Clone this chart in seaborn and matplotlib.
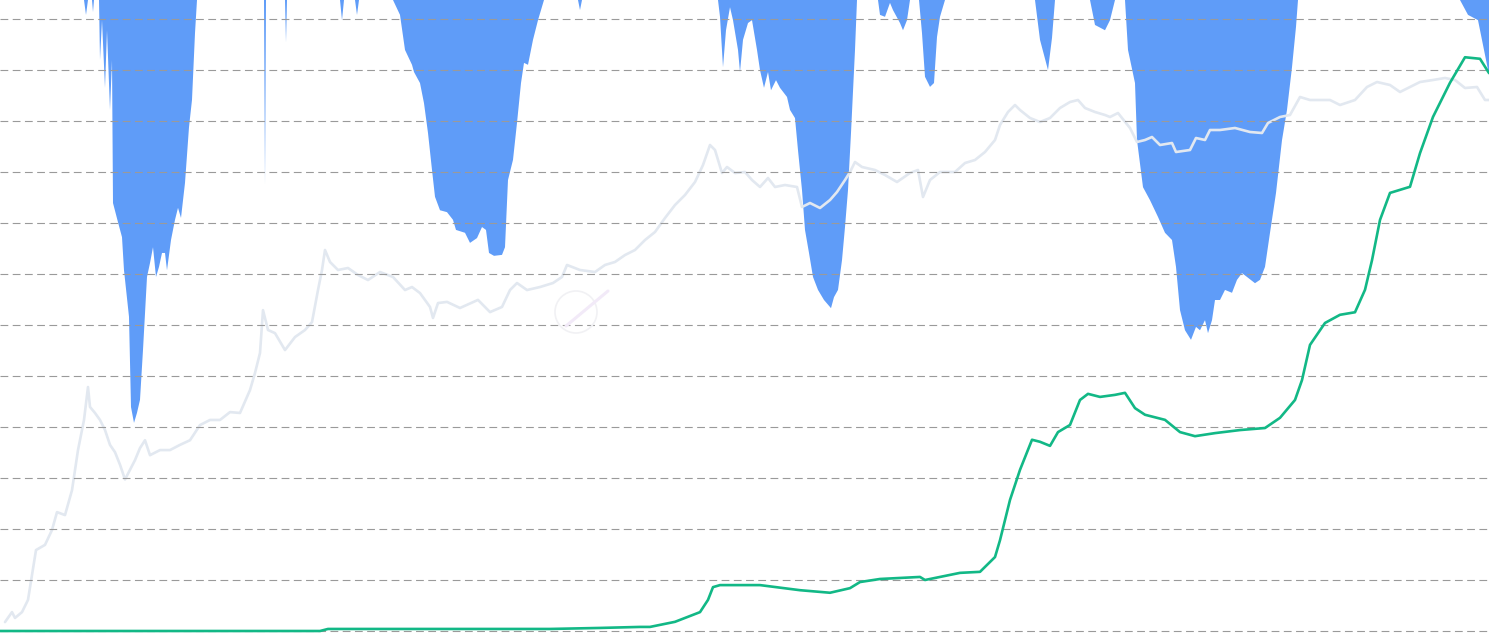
import matplotlib
matplotlib.use("Agg")
import matplotlib.pyplot as plt
import seaborn as sns
from matplotlib.patches import Circle

# Drawdown from all-time high (%), blue area hanging from the top
dd_day = [0, 84, 86, 88, 92, 93, 94, 99, 100, 102, 105, 107, 110, 112, 113, 118, 122, 124,
          129, 131, 134, 137, 140, 143, 147, 150, 153, 156, 159, 162, 165, 167, 171, 175,
          178, 181, 185, 189, 192, 195, 197, 264, 265, 266, 285, 286, 287, 340, 342, 344,
          355, 357, 359, 393, 400, 405, 412, 414, 420, 424, 428, 432, 435, 440, 447, 453,
          456, 465, 470, 477, 482, 486, 489, 494, 502, 505, 508, 513, 517, 521, 524, 528,
          533, 538, 544, 578, 580, 582, 718, 720, 723, 726, 730, 733, 738, 740, 743, 748,
          752, 757, 760, 764, 768, 771, 776, 780, 787, 790, 795, 798, 802, 805, 809, 813,
          818, 824, 831, 834, 838, 842, 845, 848, 851, 855, 857, 878, 880, 885, 890, 893,
          900, 903, 907, 910, 919, 922, 925, 930, 934, 937, 940, 945, 1035, 1040, 1048,
          1052, 1055, 1090, 1095, 1105, 1110, 1115, 1125, 1128, 1135, 1137, 1143, 1150,
          1158, 1165, 1172, 1176, 1180, 1185, 1191, 1196, 1200, 1205, 1208, 1212, 1215,
          1220, 1225, 1232, 1237, 1242, 1247, 1255, 1260, 1265, 1270, 1276, 1282, 1287,
          1292, 1296, 1298, 1460, 1468, 1478, 1484, 1489]
dd_pct = [0, 0, -3.1, 0, 0, -2.5, 0, 0, -12.5, -4.2, -18.3, -6.3, -22.9, -12.5, -42.3,
          -46.3, -49.4, -56.3, -66.0, -84.8, -88.1, -86.0, -83.3, -72.9, -57.7, -54.8,
          -51.5, -57.7, -55.6, -52.7, -52.7, -56.3, -50.0, -45.8, -43.3, -45.4, -38.1,
          -26.5, -20.8, -6.9, 0, 0, -38.5, 0, 0, -8.8, 0, 0, -4.2, 0, 0, -3.1, 0, 0, -3.1,
          -10.4, -13.5, -15.0, -17.3, -21.5, -27.7, -35.4, -41.0, -43.8, -44.2, -45.8,
          -47.9, -48.5, -50.6, -49.6, -47.3, -47.9, -52.7, -53.3, -53.1, -51.5, -37.5,
          -33.3, -25.6, -17.3, -13.1, -13.5, -8.3, -4.2, 0, 0, -2.1, 0, 0, -3.5, -14.0,
          -6.3, -1.5, -4.2, -10.4, -15.0, -8.3, -4.8, -4.2, -10.4, -14.6, -18.3, -15.0,
          -18.8, -16.7, -18.3, -20.2, -22.9, -24.6, -31.3, -39.6, -47.9, -52.7, -57.7,
          -60.4, -62.5, -64.2, -61.9, -60.4, -54.2, -47.3, -39.6, -27.7, -10.4, 0, 0,
          -3.1, -3.5, -0.6, -2.1, -4.8, -6.3, -4.2, 0, 0, -6.9, -16.0, -18.1, -17.3, -7.7,
          -3.5, 0, 0, -8.3, -14.6, -7.9, 0, 0, -5.2, -6.3, -4.2, 0, 0, -10.4, -17.3,
          -29.2, -39.0, -41.7, -45.2, -48.5, -50.0, -55.6, -64.6, -68.8, -70.8, -68.1,
          -68.8, -66.7, -69.4, -66.7, -62.5, -62.5, -60.4, -61.0, -58.3, -56.9, -57.7,
          -59.0, -58.3, -55.6, -48.5, -40.2, -29.2, -22.9, -14.0, -5.6, 0, 0, -3.1, -4.2,
          -10.4, -15.6]

# Price (log scale), light grey line
price_day = [5, 12, 15, 22, 28, 32, 36, 45, 52, 57, 65, 72, 78, 84, 88, 90, 95, 100, 105,
             110, 115, 120, 125, 130, 135, 140, 145, 150, 160, 170, 180, 190, 200, 210, 220,
             230, 240, 250, 255, 260, 263, 268, 275, 285, 295, 305, 312, 318, 322, 325, 330,
             338, 348, 358, 368, 380, 393, 405, 412, 420, 430, 433, 438, 447, 460, 478, 490,
             502, 510, 517, 527, 540, 553, 562, 567, 580, 595, 605, 615, 625, 635, 645, 655,
             665, 675, 685, 695, 703, 710, 715, 722, 727, 735, 745, 752, 760, 768, 775, 785,
             797, 802, 810, 820, 830, 837, 845, 850, 855, 862, 875, 885, 897, 910, 918, 923,
             930, 940, 955, 965, 975, 985, 995, 1000, 1008, 1015, 1020, 1030, 1040, 1050,
             1060, 1070, 1078, 1085, 1095, 1105, 1110, 1118, 1130, 1137, 1145, 1152, 1160,
             1172, 1176, 1190, 1196, 1205, 1210, 1220, 1235, 1250, 1262, 1268, 1280, 1290,
             1300, 1310, 1330, 1340, 1355, 1367, 1377, 1390, 1400, 1410, 1420, 1433, 1445,
             1455, 1465, 1477, 1485, 1489]
price_usd = [0.12, 0.151, 0.132, 0.151, 0.20, 0.355, 0.63, 0.71, 1.0, 1.51, 1.41, 2.5, 6.3,
             12.6, 26.9, 17.0, 14.8, 12.6, 10.0, 7.1, 6.0, 4.5, 3.2, 4.0, 5.0, 6.6, 7.9, 5.6,
             6.3, 6.3, 7.1, 7.9, 11.2, 12.6, 12.6, 15.1, 14.8, 25.1, 37.2, 58.9, 158, 100, 93,
             63, 85, 100, 120, 251, 398, 631, 479, 398, 417, 355, 316, 380, 339, 251, 269,
             234, 170, 132, 186, 191, 166, 200, 151, 170, 251, 295, 251, 269, 295, 339, 447,
             398, 380, 447, 479, 562, 631, 794, 955, 1318, 1778, 2239, 3020, 4467, 7079, 6310,
             3715, 4266, 3715, 3802, 3162, 2692, 3311, 2692, 2818, 2692, 1698, 1862, 1660,
             1995, 2399, 3162, 3802, 4786, 4266, 3981, 3548, 3020, 3715, 3981, 2138, 3162,
             3802, 3802, 4677, 5012, 6026, 7943, 11220, 15136, 17783, 15849, 13183, 12023,
             13183, 16596, 19055, 19953, 16596, 15136, 14125, 13490, 14791, 10471, 7586, 7943,
             8511, 7079, 7413, 6026, 6310, 8318, 7943, 10000, 10000, 10471, 9550, 9333, 11749,
             13490, 14125, 21380, 19953, 19953, 17783, 19953, 26915, 30200, 28184, 23988,
             26915, 30200, 31623, 33113, 31623, 26303, 26915, 19953, 19953]

# Cumulative metric, green line
metric_day = [0, 320, 328, 550, 600, 640, 650, 675, 700, 708, 713, 720, 760, 800, 830, 850,
              860, 880, 920, 925, 960, 980, 995, 1000, 1010, 1020, 1032, 1040, 1050, 1058,
              1070, 1080, 1088, 1100, 1115, 1125, 1135, 1145, 1165, 1180, 1195, 1215, 1240,
              1265, 1280, 1295, 1302, 1310, 1325, 1340, 1355, 1365, 1372, 1380, 1390, 1410,
              1420, 1433, 1450, 1465, 1480, 1489]
metric_val = [0, 0, 0.04, 0.04, 0.06, 0.08, 0.08, 0.18, 0.37, 0.61, 0.86, 0.90, 0.90, 0.80,
              0.75, 0.84, 0.96, 1.02, 1.06, 1.00, 1.14, 1.16, 1.45, 1.78, 2.57, 3.16, 3.75,
              3.71, 3.63, 3.90, 4.04, 4.53, 4.65, 4.59, 4.63, 4.67, 4.37, 4.24, 4.14, 3.90,
              3.82, 3.88, 3.94, 3.98, 4.18, 4.53, 4.92, 5.61, 6.04, 6.20, 6.25, 6.69, 7.27,
              8.06, 8.59, 8.71, 9.37, 10.08, 10.75, 11.25, 11.22, 10.94]

sns.set_theme(style="white")

fig = plt.figure(figsize=(14.89, 6.33), dpi=100)
ax_dd = fig.add_axes([0, 0, 1, 1])
ax_price = ax_dd.twinx()
ax = ax_dd.twinx()

# blue drawdown area
ax_dd.fill_between(dd_day, dd_pct, 0, color="#5f9cf8", linewidth=0)
ax_dd.set_ylim(-131.875, 0)

# grey price line
sns.lineplot(x=price_day, y=price_usd, ax=ax_price, color="#e2e8f0", linewidth=1.9)
ax_price.set_yscale("log")
ax_price.set_ylim(10 ** -1.03, 10 ** 5.3)

# green metric line + dashed grid
sns.lineplot(x=metric_day, y=metric_val, ax=ax, color="#12b886", linewidth=1.9)
ax.set_ylim(-2 / 51, 631 / 51)
ax.set_yticks(range(0, 13))
ax.yaxis.grid(True, color="#9a9a9a", linewidth=0.8, linestyle=(0, (7, 4)))
ax.xaxis.grid(False)

for a in (ax_dd, ax_price, ax):
    a.set_xlim(0, 1489)
    a.tick_params(left=False, right=False, bottom=False, labelleft=False,
                  labelright=False, labelbottom=False)
    for s in a.spines.values():
        s.set_visible(False)
    a.set_xlabel("")
    a.set_ylabel("")

# faint watermark (inches from lower-left)
fig.patches.append(Circle((5.76, 3.21), 0.21, transform=fig.dpi_scale_trans,
                          fill=False, edgecolor="#f1f1f4", linewidth=1.2))
fig.lines.append(plt.Line2D([5.66, 6.08], [3.07, 3.42], transform=fig.dpi_scale_trans,
                            color="#f2eaf8", linewidth=2.2))

fig.savefig("out.png", dpi=100)
